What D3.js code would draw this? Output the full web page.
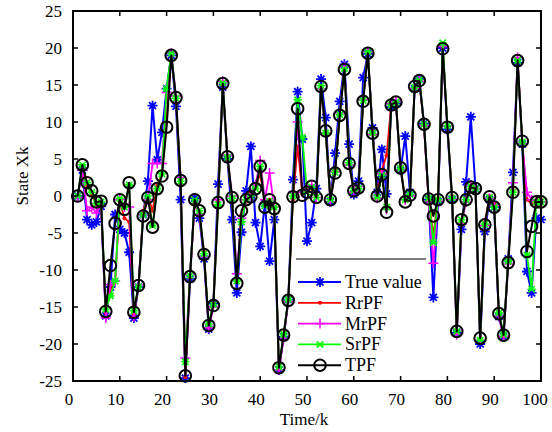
<!DOCTYPE html>
<html><head><meta charset="utf-8">
<script src="https://cdn.jsdelivr.net/npm/d3@7"></script>
<style>html,body{margin:0;padding:0;background:#fff;}svg{display:block;}</style>
</head><body>
<svg id="c" width="552" height="432"></svg>
<script>
const timeK = d3.range(1, 101);
const trueValue = [0,3.5,-3.2,-3.9,-3.5,-1.4,-16.2,-12.3,-2.5,-4.5,-5,-7.6,-16.5,-12.3,-2.5,2,12.2,4.9,8.6,14.5,19,12.1,-0.5,-24.6,-11.2,-0.3,-3,-8.5,-18,-14.5,1.6,14.7,5,-3.2,-13.1,-4.9,0.7,6.7,-3.6,-6.8,-1,-8.8,-3.2,-23.5,-19,-14,2.2,14.1,7.7,-6.1,-3.6,1,15.8,10.6,-0.8,5.8,12.8,17.8,7,0.2,2,16,19.2,9.2,0.5,6.3,0.3,12,12.5,3.5,8.1,0.5,14.5,15.8,9.8,-0.5,-13.7,-0.8,20,9,-0.5,-18.5,-4.5,1.9,10.7,1,-20,-4.8,-0.5,-1.5,-16.3,-19,-8.5,3.2,18,7,-10.2,-13.1,-3,-3.2];
const rrPF = [0,3.8,1.5,0.3,-1.2,-1,-15.8,-12.5,-11.5,-0.8,-3,-3.5,-16,-12.3,-2,0,-2,1.5,3,10,19.2,13,1.5,-24.5,-11,-0.8,-2.5,-7.5,-17.8,-14.5,-0.8,15,5,-0.5,-11.5,-2.5,-0.8,0.5,1.2,3,-1,-0.5,-1.5,-23.4,-19,-14,-0.5,6.7,0.3,0.8,1,0,14.5,8.5,-0.3,3.5,11,17.3,4.5,0.8,1,13,19.5,8.8,0.3,3.5,5.5,12.5,12.5,4,-0.5,0.3,14.8,15.5,9.5,-0.5,-5.3,-0.3,20,9.5,0,-18.5,-3.5,-0.3,1.5,1,-19.5,-3.5,0,-1,-16,-19,-8.5,0.8,18.5,7.2,-0.5,-1,-0.5,-0.5];
const mrPF = [-0.2,3.5,-2,-1.5,-2.3,-1.2,-16.5,-12,-11.5,-0.5,-1.5,-1.5,-16.3,-12,-2.5,-0.5,4.4,4.4,4.4,14,19.3,13.5,2.5,-21.9,-10.5,-1,-2.5,-8.2,-17.8,-15,-0.5,15.5,5.5,0,-10.5,-3,-0.5,0.3,1.5,4.8,-0.5,3.1,-1.5,-23.5,-19.2,-14.3,0.5,10,0.5,1,1.5,-0.2,14.5,8.5,-0.8,3.3,11.2,17.5,4.2,0.5,1.3,13,19.5,8.3,-0.3,3,-1.8,12.5,12.8,3.5,-0.5,0,14.5,15.5,9.5,-0.8,-9.1,-0.7,20.2,9.5,-0.5,-18.7,-3.8,-0.8,1.5,1,-19.5,-4,-0.3,-1.2,-16.2,-19,-9.2,1.8,18.7,7,0.5,-0.5,-0.5,-0.8];
const srPF = [0,4.2,1.8,0.5,-1,-0.8,-15.3,-13.5,-11.5,-0.3,-1.5,1.5,-15.5,-12.3,-2.5,0,-4,1,3,14.5,19.3,13.2,2,-22.4,-10.7,-0.5,-2,-7.8,-17.3,-14.7,-1.2,15.3,5.2,-0.3,-11.5,-3.5,-0.5,0,1,4,-1.3,-0.7,-1.5,-23.1,-18.7,-14,0,13,7.9,0.5,1.2,-0.2,14.9,8.5,-0.5,3.2,11,17.2,4.5,0.7,1,12.9,19.5,8.5,-0.2,2.8,-1.5,12.3,12.7,3.7,-0.5,0.2,14.7,15.7,9.7,-0.3,-6.3,-0.5,20.7,9.5,-0.3,-18.3,-3.2,-0.5,1.3,1,-19.5,-3.8,-0.2,-1.5,-15.8,-18.7,-8.8,0.5,18.3,7.3,-8,-12.6,-0.8,-0.8];
const tpf = [0,4.2,1.8,0.7,-0.8,-0.7,-15.6,-9.4,-3.7,-0.5,-1.8,1.8,-15.7,-12.1,-2.7,-0.2,-4.2,1,2.7,9.3,19,13.3,2.1,-24.3,-10.9,-0.5,-2,-7.9,-17.5,-14.8,-0.9,15.2,5.3,-0.2,-11.8,-2,-0.5,-0.1,1,4,-1.5,-0.5,-1.7,-23.2,-18.8,-14.1,-0.1,11.8,0.1,0.5,1.3,-0.2,14.8,8.8,-0.5,3.1,10.9,17.1,4.4,0.7,1.1,12.8,19.3,8.5,0,2.9,-2.2,12.3,12.7,3.8,-0.8,0.1,14.8,15.6,9.7,-0.4,-2.7,-0.5,19.9,9.3,-0.2,-18.3,-3.2,-0.5,1.2,1,-19.2,-3.9,-0.1,-1.5,-15.9,-18.8,-9,0.5,18.3,7.4,-7.5,-4.1,-0.8,-0.8];
const seriesNames = ["True value","RrPF","MrPF","SrPF","TPF"];
const seriesColors = ["#0000ff","#ff0000","#ff00ff","#00ff00","#000000"];
const xTicks = [0,10,20,30,40,50,60,70,80,90,100];
const yTicks = [-25,-20,-15,-10,-5,0,5,10,15,20,25];
const xLabel = "Time/k";
const yLabel = "State Xk";

const svg = d3.select("#c");
const L = 73, R = 541, T = 11, B = 381;
const x = d3.scaleLinear().domain([0,100]).range([L,R]);
const y = d3.scaleLinear().domain([-25,25]).range([B,T]);
const font = "'Liberation Serif','Times New Roman',serif";

const seriesData = [trueValue, rrPF, mrPF, srPF, tpf];
const markers = [
  {path:"M-5,0H5M0,-5V5M-3.5,-3.5L3.5,3.5M-3.5,3.5L3.5,-3.5", w:1.8},
  {dot:true},
  {path:"M-5,0H5M0,-5V5", w:1.5},
  {path:"M-3.2,-3.2L3.2,3.2M-3.2,3.2L3.2,-3.2M-4,0H4", w:1.6},
  {circle:true}
];
const lineWidths = [2, 1.8, 1.8, 1.8, 2];

const g = svg.append("g");
const line = d3.line().x((d,i)=>x(timeK[i])).y(d=>y(d));

function drawMarker(sel, m, color){
  if (m.dot) sel.append("circle").attr("r",2).attr("fill",color);
  else if (m.circle) sel.append("circle").attr("r",5.8).attr("fill","none").attr("stroke",color).attr("stroke-width",2);
  else sel.append("path").attr("d",m.path).attr("stroke",color).attr("stroke-width",m.w).attr("fill","none");
}

seriesData.forEach((vals, si) => {
  const c = seriesColors[si];
  g.append("path").datum(vals).attr("d", line).attr("fill","none")
    .attr("stroke", c).attr("stroke-width", lineWidths[si]).attr("stroke-linejoin","round");
  const mg = g.append("g");
  vals.forEach((v,i) => {
    const s = mg.append("g").attr("transform",`translate(${x(timeK[i])},${y(v)})`);
    drawMarker(s, markers[si], c);
  });
});

// Legend
const lgX = 296, lgY = 259;
svg.append("rect").attr("x",lgX).attr("y",lgY).attr("width",130).attr("height",B-lgY-1).attr("fill","#fff");
svg.append("line").attr("x1",lgX).attr("x2",lgX+130).attr("y1",lgY).attr("y2",lgY).attr("stroke","#000").attr("stroke-width",1.2);
seriesNames.forEach((n,i) => {
  const yy = 282 + i*20.8;
  svg.append("line").attr("x1",298).attr("x2",341).attr("y1",yy).attr("y2",yy)
    .attr("stroke",seriesColors[i]).attr("stroke-width",lineWidths[i]);
  const s = svg.append("g").attr("transform",`translate(320,${yy})`);
  drawMarker(s, markers[i], seriesColors[i]);
  svg.append("text").attr("x",345).attr("y",yy+6).attr("font-family",font).attr("font-size",18).attr("fill","#000").text(n);
});

// Frame
const ax = svg.append("g");
ax.append("rect").attr("x",L).attr("y",T).attr("width",R-L).attr("height",B-T)
  .attr("fill","none").attr("stroke","#000").attr("stroke-width",2);
const tl = 5;
xTicks.forEach(t => {
  ax.append("line").attr("x1",x(t)).attr("x2",x(t)).attr("y1",B).attr("y2",B-tl).attr("stroke","#000").attr("stroke-width",1.5);
  ax.append("line").attr("x1",x(t)).attr("x2",x(t)).attr("y1",T).attr("y2",T+tl).attr("stroke","#000").attr("stroke-width",1.5);
  ax.append("text").attr("x",x(t)-(t===100?6:4)).attr("y",405).attr("text-anchor","middle")
    .attr("font-family",font).attr("font-size",17).text(t);
});
yTicks.forEach(t => {
  ax.append("line").attr("x1",L).attr("x2",L+tl).attr("y1",y(t)).attr("y2",y(t)).attr("stroke","#000").attr("stroke-width",1.5);
  ax.append("line").attr("x1",R).attr("x2",R-tl).attr("y1",y(t)).attr("y2",y(t)).attr("stroke","#000").attr("stroke-width",1.5);
  ax.append("text").attr("x",62).attr("y",y(t)+6).attr("text-anchor","end")
    .attr("font-family",font).attr("font-size",17).text(t);
});
svg.append("text").attr("x",304).attr("y",425).attr("text-anchor","middle")
  .attr("font-family",font).attr("font-size",17).text(xLabel);
svg.append("text").attr("transform","translate(28,176) rotate(-90)").attr("text-anchor","middle")
  .attr("font-family",font).attr("font-size",17).text(yLabel);
</script>
</body></html>
